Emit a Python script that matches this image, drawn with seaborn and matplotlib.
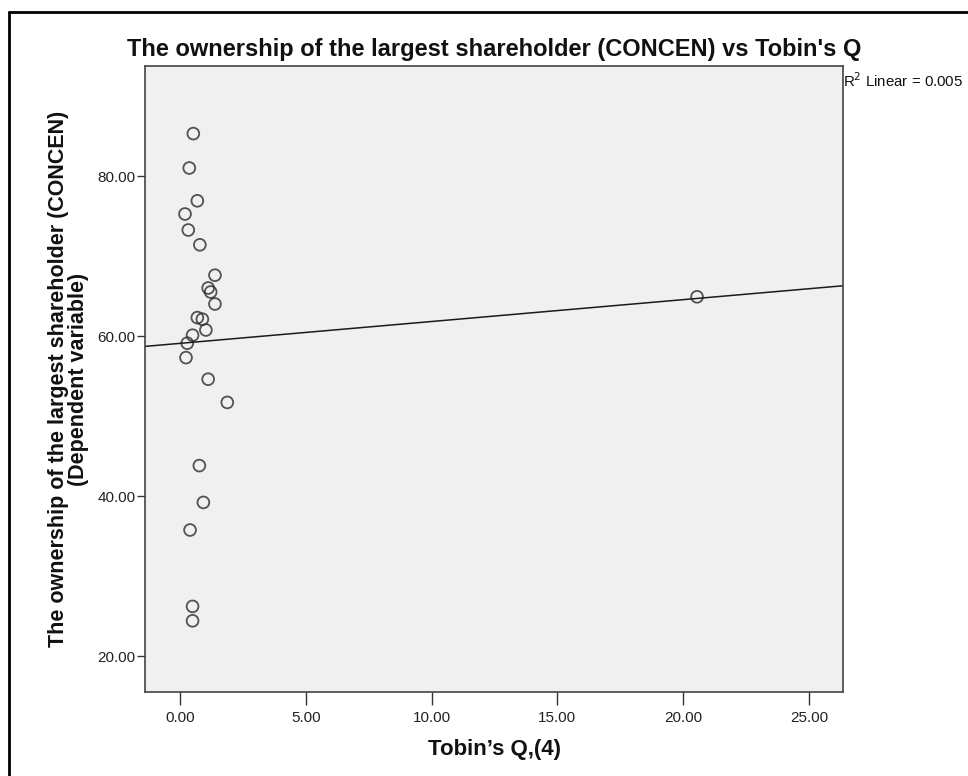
import numpy as np
import pandas as pd
import matplotlib
matplotlib.use('Agg')
import matplotlib.pyplot as plt
import seaborn as sns
from matplotlib.lines import Line2D

# data
tobins_q = [0.53, 0.37, 0.69, 0.20, 0.33, 0.79, 1.39, 1.12, 1.22, 1.39,
            0.69, 0.89, 1.03, 0.50, 0.29, 0.24, 1.12, 1.88, 0.77, 0.93,
            0.40, 0.50, 0.50, 20.55]
concen = [85.3, 81.0, 76.9, 75.25, 73.25, 71.4, 67.6, 66.0, 65.5, 64.0,
          62.3, 62.1, 60.75, 60.1, 59.1, 57.3, 54.6, 51.7, 43.8, 39.2,
          35.75, 26.2, 24.4, 64.9]
x_ticks = [0, 5, 10, 15, 20, 25]
y_ticks = [20, 40, 60, 80]
r2_text = 'R$^2$ Linear = 0.005'

df = pd.DataFrame({'Q': tobins_q, 'CONCEN': concen})

sns.set_theme(style='white')
plt.rcParams['font.family'] = ['Liberation Sans', 'DejaVu Sans']

fig = plt.figure(figsize=(9.68, 7.76), dpi=100)
ax = fig.add_axes([145 / 968, 1 - 692 / 776, (843 - 145) / 968, (692 - 66) / 776])
ax.set_facecolor('#f0f0f0')
ax.set_xlim(-1.39, 26.35)
ax.set_ylim(15.5, 93.75)

sns.regplot(data=df, x='Q', y='CONCEN', ax=ax, ci=None, truncate=False,
            scatter_kws=dict(s=72, facecolors='none', edgecolors='#2b2b2b', linewidths=1.3),
            line_kws=dict(color='#1a1a1a', lw=1.1))

ax.set_xticks(x_ticks)
ax.set_xticklabels([f'{v:.2f}' for v in x_ticks])
ax.set_yticks(y_ticks)
ax.set_yticklabels([f'{v:.2f}' for v in y_ticks])
ax.tick_params(axis='x', length=9, width=1, color='#333333', labelsize=11, labelcolor='#222222', pad=5, bottom=True)
ax.tick_params(axis='y', length=6, width=1, color='#333333', labelsize=11, labelcolor='#222222', pad=1, left=True)

for side in ['left', 'bottom', 'top', 'right']:
    ax.spines[side].set_visible(True)
    ax.spines[side].set_color('#444444')
    ax.spines[side].set_linewidth(1.2)

ax.set_title("The ownership of the largest shareholder (CONCEN) vs Tobin's Q",
             fontsize=17, fontweight='bold', color='#111111', pad=7)
ax.set_xlabel('Tobin\u2019s Q,(4)', fontsize=16, fontweight='bold', color='#111111', labelpad=10)
ax.set_ylabel('The ownership of the largest shareholder (CONCEN)\n(Dependent variable)',
              fontsize=15.5, fontweight='bold', color='#111111', labelpad=6, linespacing=0.95)

fig.text(843 / 968, 1 - 81 / 776, r2_text, fontsize=10.8, color='#111111', ha='left', va='center')

# outer frame (left and top edges)
fig.add_artist(Line2D([9 / 968, 9 / 968], [0, 1 - 12 / 776], transform=fig.transFigure, color='black', lw=2))
fig.add_artist(Line2D([9 / 968, 1], [1 - 12 / 776, 1 - 12 / 776], transform=fig.transFigure, color='black', lw=2))

fig.savefig('out.png', dpi=100, facecolor='white')
